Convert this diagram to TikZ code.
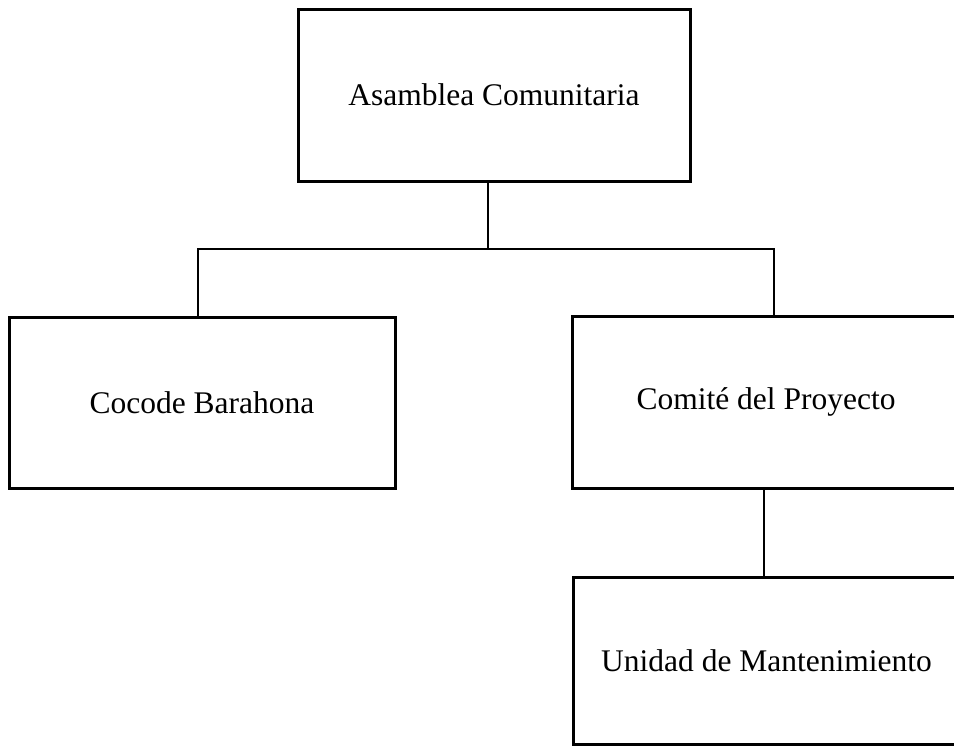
\documentclass[tikz,border=0pt]{standalone}
\usepackage{fontspec}
\setmainfont{Liberation Serif}
\begin{document}
\begin{tikzpicture}[x=1pt,y=-1pt,
  orgbox/.style={draw=black, line width=3pt, rectangle, inner sep=0pt, align=center,
    font=\fontsize{31.5}{38}\selectfont},
  link/.style={draw=black, line width=1.4pt}]
\useasboundingbox (0,0) rectangle (954,748);
\clip (0,0) rectangle (954,748);
\fill[white] (0,0) rectangle (954,748);
\node[orgbox, minimum width=392pt, minimum height=172pt] (top) at (494,95) {Asamblea Comunitaria};
\node[orgbox, minimum width=386pt, minimum height=171pt] (left) at (202,402.5) {Cocode Barahona};
\node[orgbox, minimum width=388pt, minimum height=172pt] (right) at (766,402) {Comité del Proyecto};
\node[orgbox, minimum width=387pt, minimum height=167pt] (unidad) at (766.5,660.5) {Unidad de Mantenimiento};
\coordinate (j) at (488,249);
\coordinate (jl) at (198,249);
\coordinate (jr) at (774,249);
\coordinate (jc) at (764,530);
\draw[link] (j |- top.south) -- (j);
\draw[link] (jl |- left.north) -- (jl) -- (jr) -- (jr |- right.north);
\draw[link] (jc |- right.south) -- (jc |- unidad.north);
\end{tikzpicture}
\end{document}
